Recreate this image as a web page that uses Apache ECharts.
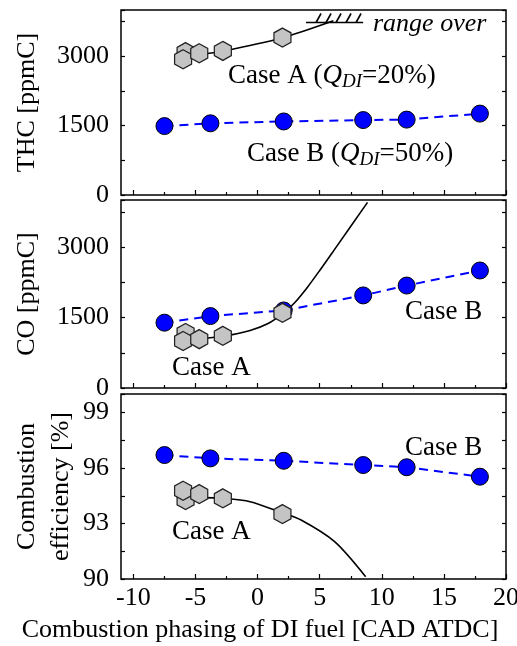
<!DOCTYPE html>
<html>
<head>
<meta charset="utf-8">
<script src="https://cdn.jsdelivr.net/npm/echarts@6/dist/echarts.min.js"></script>
<style>
  html, body { margin: 0; padding: 0; background: #fff; }
  #chart { width: 517px; height: 646px; }
</style>
</head>
<body>
<div id="chart"></div>
<script>
// phasing of DI fuel [CAD ATDC]
const xCaseA = [-5.8, -6.0, -4.7, -2.8, 2.0]
const xCaseB = [-7.5, -3.8, 2.1, 8.5, 12.0, 17.9]

const thcA = [3090, 2935, 3065, 3115, 3405]
const thcB = [1490, 1550, 1590, 1620, 1630, 1760]
const coA = [1170, 1000, 1040, 1110, 1600]
const coB = [1390, 1530, 1650, 1970, 2180, 2500]
const effA = [94.27, 94.77, 94.59, 94.36, 93.51]
const effB = [96.70, 96.52, 96.39, 96.16, 96.04, 95.53]

// hand drawn trend curves for case A
const thcFitA = [[-4.7, 3040], [-2.8, 3110], [2.0, 3400], [6.1, 3767]]
const coFitA = [[-4.6, 1050], [-2.7, 1105], [-0.6, 1225], [0.8, 1366], [2.1, 1600], [3.0, 1820], [4.0, 2140], [5.0, 2500], [6.2, 2950], [8.85, 3950]]
const effFitA = [[-4.6, 94.40], [-2.7, 94.36], [-0.6, 94.18], [1.9, 93.59], [3.5, 93.19], [6.2, 92.02], [8.7, 90.12]]

// "range over" hatch: x from, x to, level
const hatch = [[3.9, 8.5, 3730]]

const xMajor = [-10, -5, 0, 5, 10, 15, 20]
const xMinor = [-7.5, -2.5, 2.5, 7.5, 12.5, 17.5]

const F = 'Liberation Serif'
const hexagon = 'path://M0,-1L0.866,-0.5L0.866,0.5L0,1L-0.866,0.5L-0.866,-0.5Z'

const grids = [
  { left: 121, right: 11, top: 10, height: 185 },
  { left: 121, right: 11, top: 200, height: 188 },
  { left: 121, right: 11, top: 394, height: 185 }
].map(g => Object.assign(g, { show: true, borderColor: '#000', borderWidth: 1.5, containLabel: false, outerBoundsMode: 'none' }))

const xAxes = []
for (let i = 0; i < 3; i++) {
  xAxes.push({
    gridIndex: i, type: 'value', min: -11, max: 20, position: 'bottom',
    axisLine: { show: false, onZero: false },
    splitLine: { show: false },
    axisTick: { inside: true, length: 5, customValues: xMajor, lineStyle: { color: '#000', width: 1.2 } },
    axisLabel: { show: i === 2, customValues: xMajor, margin: 6, fontSize: 26, fontFamily: F, color: '#000' }
  })
}
for (let i = 0; i < 3; i++) {
  xAxes.push({
    gridIndex: i, type: 'value', min: -11, max: 20, position: 'bottom',
    axisLine: { show: false, onZero: false },
    splitLine: { show: false },
    axisTick: { inside: true, length: 3, customValues: xMinor, lineStyle: { color: '#000', width: 1.2 } },
    axisLabel: { show: false }
  })
}

const yRanges = [
  { min: 0, max: 4000, interval: 750, step: 1500, name: 'THC [ppmC]', gap: 77 },
  { min: 0, max: 4000, interval: 750, step: 1500, name: 'CO [ppmC]', gap: 77 },
  { min: 90, max: 100, interval: 1.5, step: 3, name: 'Combustion\nefficiency [%]', gap: 43 }
]
const yAxes = []
yRanges.forEach((r, i) => {
  yAxes.push({
    gridIndex: i, type: 'value', min: r.min, max: r.max, interval: r.interval, position: 'left',
    name: r.name, nameLocation: 'middle', nameRotate: 90, nameGap: r.gap, nameMoveOverlap: false,
    nameTextStyle: { fontSize: 26, fontFamily: F, color: '#000', lineHeight: 34 },
    axisLine: { show: false, onZero: false },
    splitLine: { show: false },
    axisTick: { inside: true, length: 4, lineStyle: { color: '#000', width: 1.2 } },
    axisLabel: {
      margin: 12, fontSize: 26, fontFamily: F, color: '#000',
      formatter: v => (Math.abs(((v - r.min) / r.step) - Math.round((v - r.min) / r.step)) < 1e-6 && v < r.max) ? String(Math.round(v)) : ''
    }
  })
})
yRanges.forEach((r, i) => {
  yAxes.push({
    gridIndex: i, type: 'value', min: r.min, max: r.max, interval: r.interval, position: 'right',
    axisLine: { show: false, onZero: false },
    splitLine: { show: false },
    axisTick: { inside: true, length: 4, lineStyle: { color: '#000', width: 1.2 } },
    axisLabel: { show: false }
  })
})

const zip = (xs, ys) => xs.map((x, k) => [x, ys[k]])

function panelSeries(i, fitA, ysA, ysB) {
  return [
    {
      type: 'line', xAxisIndex: i, yAxisIndex: i, data: fitA, smooth: 0.3,
      showSymbol: false, lineStyle: { color: '#000', width: 1.6 }, z: 2, silent: true
    },
    {
      type: 'scatter', xAxisIndex: i, yAxisIndex: i, data: zip(xCaseA, ysA),
      symbol: hexagon, symbolSize: [17, 19],
      itemStyle: { color: '#c4c4c4', borderColor: '#222', borderWidth: 1.3, opacity: 1 }, z: 3
    },
    {
      type: 'line', xAxisIndex: i, yAxisIndex: i, data: zip(xCaseB, ysB),
      showSymbol: false, lineStyle: { color: '#0000ff', width: 2, type: [9, 6] }, z: 2
    },
    {
      type: 'scatter', xAxisIndex: i, yAxisIndex: i, data: zip(xCaseB, ysB),
      symbol: 'circle', symbolSize: 17,
      itemStyle: { color: '#0000ff', borderColor: '#000', borderWidth: 1, opacity: 1 }, z: 2
    }
  ]
}

const series = [
  ...panelSeries(0, thcFitA, thcA, thcB),
  ...panelSeries(1, coFitA, coA, coB),
  ...panelSeries(2, effFitA, effA, effB),
  {
    type: 'custom', xAxisIndex: 0, yAxisIndex: 0, data: hatch, clip: false,
    encode: { x: [0, 1], y: 2 },
    renderItem: (params, api) => {
      const a = api.coord([api.value(0), api.value(2)])
      const b = api.coord([api.value(1), api.value(2)])
      const st = { stroke: '#000', lineWidth: 1.6 }
      const kids = [{ type: 'line', shape: { x1: a[0], y1: a[1], x2: b[0], y2: b[1] }, style: st }]
      for (let k = 1; k <= 5; k++) {
        const bx = a[0] + (b[0] - a[0]) * 0.175 * k
        kids.push({ type: 'line', shape: { x1: bx, y1: a[1], x2: bx + 5, y2: a[1] - 9 }, style: st })
      }
      return { type: 'group', children: kids }
    }
  }
]

const rich = {
  n: { fontSize: 27, fontFamily: F, fill: '#000', lineHeight: 30 },
  q: { fontSize: 27, fontFamily: F, fontStyle: 'italic', fill: '#000', lineHeight: 30 },
  s: { fontSize: 19, fontFamily: F, fontStyle: 'italic', fill: '#000', lineHeight: 19, verticalAlign: 'bottom', padding: [11, 0, 0, 0] }
}
const label = (x, y, text, extra) => ({
  type: 'text', x: x, y: y, silent: true,
  style: Object.assign({ text: text, font: '27px "' + F + '"', fill: '#000', verticalAlign: 'middle', rich: rich }, extra || {})
})

const graphic = [
  label(228, 76, '{n|Case A (}{q|Q}{s|DI}{n|=20%)}'),
  label(247, 154, '{n|Case B (}{q|Q}{s|DI}{n|=50%)}'),
  label(373, 24, 'range over', { font: 'italic 26px "' + F + '"', rich: null }),
  label(405, 312, 'Case B'),
  label(172, 368, 'Case A'),
  label(405, 448, 'Case B'),
  label(172, 532, 'Case A'),
  label(260, 630, 'Combustion phasing of DI fuel [CAD ATDC]', { font: '26px "' + F + '"', align: 'center' })
]

const option = {
  animation: false,
  backgroundColor: '#fff',
  grid: grids,
  xAxis: xAxes,
  yAxis: yAxes,
  series: series,
  graphic: graphic
}

const chart = echarts.init(document.getElementById('chart'), null, { renderer: 'canvas' })
chart.setOption(option)
window.onresize = function () {
  chart.resize()
}
</script>
</body>
</html>
